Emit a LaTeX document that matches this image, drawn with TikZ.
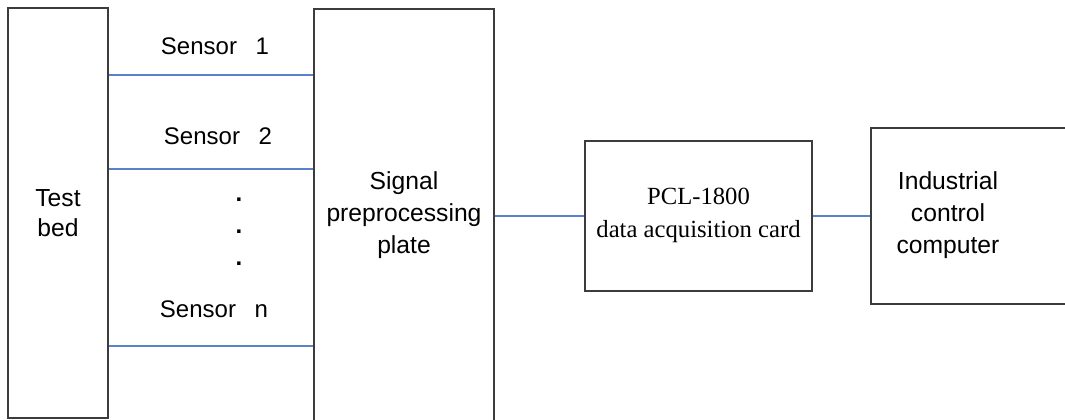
\documentclass[tikz,border=0pt]{standalone}
\usepackage{fontspec}
\setmainfont{Liberation Serif}
\setsansfont{Liberation Sans}
\usetikzlibrary{calc}
\definecolor{wireblue}{RGB}{91,130,200}
\definecolor{boxgray}{RGB}{60,60,60}

\begin{document}
\begin{tikzpicture}[x=0.75pt, y=-0.75pt,
    box/.style={draw=boxgray, line width=0.9pt, inner sep=0pt},
    wire/.style={draw=wireblue, line width=0.9pt},
    lbl/.style={font=\sffamily\fontsize{18}{24}\selectfont, align=center, inner sep=0pt}]
    \useasboundingbox (0,0) rectangle (1065,420);
    \clip (0,0) rectangle (1065,420);

    % the blocks
    \node[box, minimum width=75pt, minimum height=307.5pt] (tb) at (58,213) {};
    \node[box, minimum width=135pt, minimum height=310.5pt] (sp) at (404,216) {};
    \node[box, minimum width=170.25pt, minimum height=112.5pt] (pcl) at (698.5,216) {};
    \node[box, minimum width=164.25pt, minimum height=132pt] (ic) at (980.5,216) {};

    % the texts
    \node[lbl, font=\sffamily\fontsize{18.5}{22.5}\selectfont] (tbtext) at (tb) {Test\\bed};
    \node[lbl, font=\sffamily\fontsize{18.5}{24}\selectfont] (sptext) at (404,215.5) {Signal\\preprocessing\\plate};
    \node[lbl, font=\rmfamily\fontsize{18.5}{25}\selectfont] (pcltext) at (698.5,215.5) {PCL-1800\\data acquisition card};
    \node[lbl, font=\sffamily\fontsize{18.5}{24}\selectfont] (ictext) at (948,215.5) {Industrial\\control\\computer};

    % the sensors
    \node[lbl, anchor=base] (s1) at (215,55) {Sensor\hspace{14pt}1};
    \node[lbl, anchor=base] (s2) at (218,145) {Sensor\hspace{14pt}2};
    \node[lbl, anchor=base] (sn) at (214,318) {Sensor\hspace{14pt}n};
    \node[lbl, font=\sffamily\bfseries\fontsize{18}{24}\selectfont] (d1) at (239,200) {.};
    \node[lbl, font=\sffamily\bfseries\fontsize{18}{24}\selectfont] (d2) at (239,232) {.};
    \node[lbl, font=\sffamily\bfseries\fontsize{18}{24}\selectfont] (d3) at (239,264) {.};

    % the lines (y of each line)
    \coordinate (l1) at (0,75);
    \coordinate (l2) at (0,169);
    \coordinate (ln) at (0,346);
    \draw[wire] (tb.east |- l1) -- (sp.west |- l1);
    \draw[wire] (tb.east |- l2) -- (sp.west |- l2);
    \draw[wire] (tb.east |- ln) -- (sp.west |- ln);
    \draw[wire] (sp.east) -- (pcl.west);
    \draw[wire] (pcl.east) -- (ic.west);
\end{tikzpicture}
\end{document}
